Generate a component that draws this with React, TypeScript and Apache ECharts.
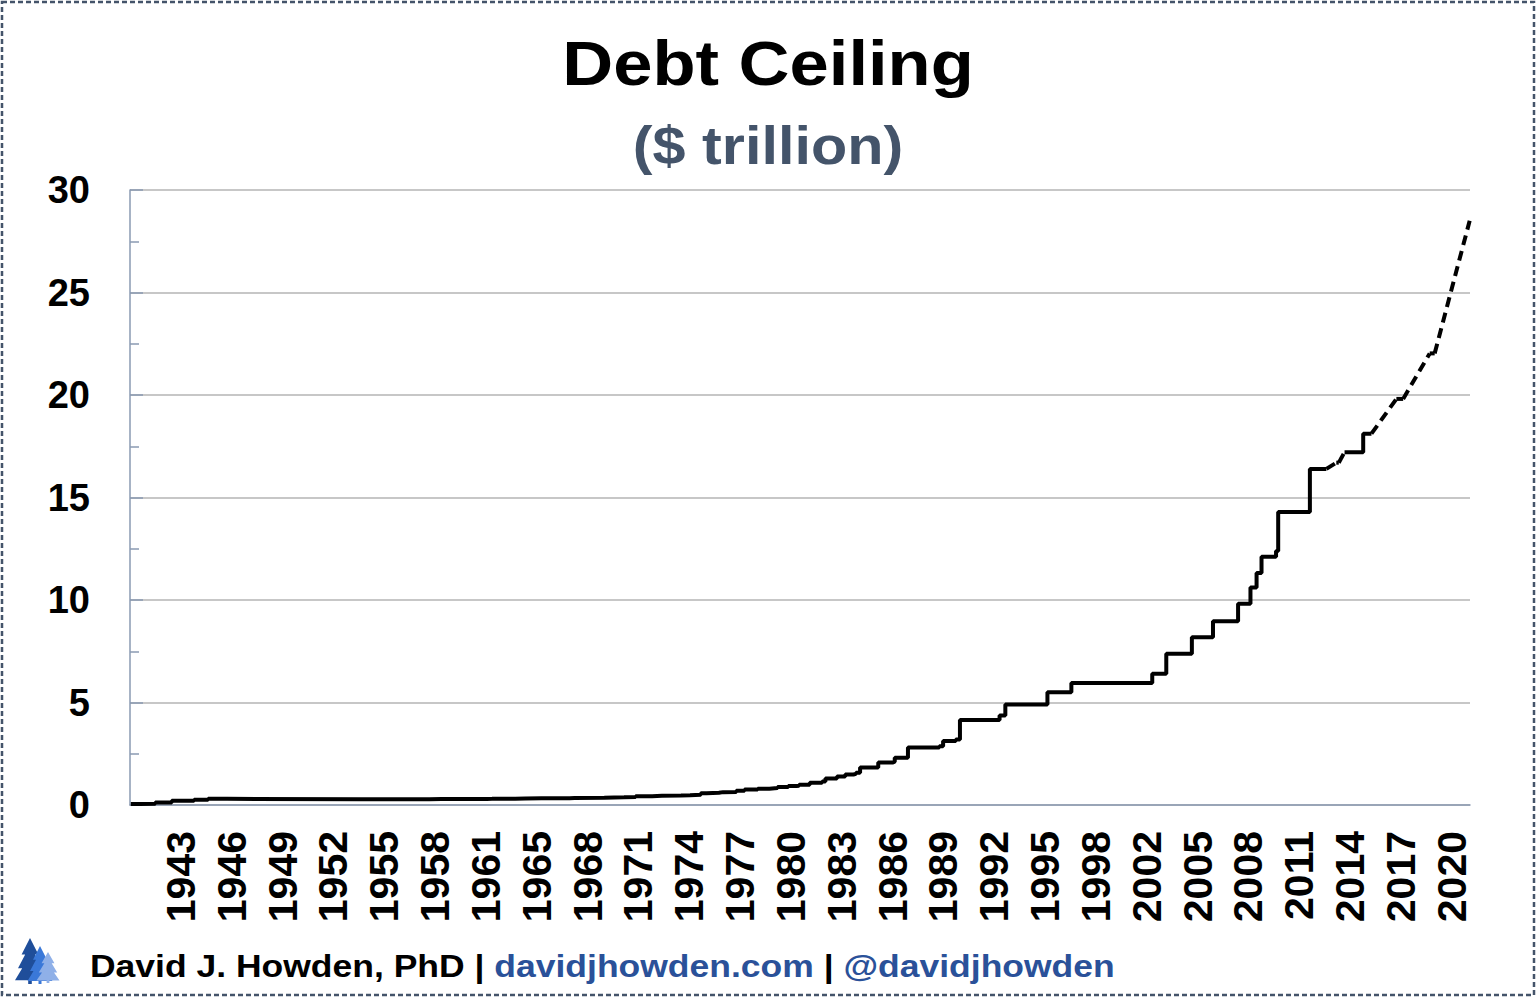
import { useEffect, useRef } from 'react';
import * as echarts from 'echarts';

// X-axis tick labels (date axis, ~1125-day major unit, year format)
const TICK_LABELS = ['1943', '1946', '1949', '1952', '1955', '1958', '1961', '1965', '1968', '1971', '1974', '1977', '1980', '1983', '1986', '1989', '1992', '1995', '1998', '2002', '2005', '2008', '2011', '2014', '2017', '2020'];
const FIRST_TICK = 1943.5;
const TICK_STEP = 3.08;
const X_MIN = 1940.42;
const X_MAX = 2021.6;

// Debt ceiling changes: date (decimal year) and limit ($ trillion)
const DATES = [
  1940.47, 1941.0, 1941.95, 1942.95, 1944.3, 1945.15, 1946.3, 1954.45, 1956.35, 1957.35,
  1958.0, 1958.55, 1959.3, 1960.35, 1961.35, 1962.05, 1962.35, 1963.25, 1963.35, 1963.75,
  1964.35, 1965.35, 1966.35, 1967.05, 1967.35, 1969.15, 1970.35, 1971.05, 1972.05, 1972.65,
  1973.8, 1974.35, 1975.0, 1975.35, 1976.1, 1976.35, 1977.15, 1977.65, 1978.45, 1979.15,
  1979.65, 1980.3, 1980.8, 1980.95, 1981.6, 1982.35, 1982.55, 1983.25, 1983.75, 1984.25,
  1984.4, 1984.65, 1985.75, 1986.65, 1986.75, 1987.55, 1989.45, 1989.68, 1990.45, 1990.7,
  1993.1, 1993.45, 1996.0, 1997.45, 2002.35, 2003.2, 2004.75, 2006.03, 2007.55, 2008.3,
  2008.67, 2008.97, 2009.85, 2009.98, 2011.9, 2012.9, 2013.5, 2013.65, 2014.0, 2015.13,
  2015.63, 2017.14, 2017.55, 2019.16, 2019.46, 2021.58,
];
const LIMITS = [
  0.049, 0.065, 0.125, 0.21, 0.26, 0.3, 0.275, 0.281, 0.278, 0.275,
  0.28, 0.288, 0.295, 0.293, 0.298, 0.3, 0.308, 0.307, 0.309, 0.315,
  0.324, 0.328, 0.33, 0.336, 0.358, 0.377, 0.395, 0.43, 0.45, 0.465,
  0.475, 0.495, 0.577, 0.595, 0.627, 0.636, 0.7, 0.752, 0.798, 0.83,
  0.879, 0.925, 0.935, 0.985, 1.08, 1.143, 1.29, 1.389, 1.49, 1.52,
  1.573, 1.824, 2.079, 2.111, 2.3, 2.8, 2.87, 3.123, 3.195, 4.145,
  4.37, 4.9, 5.5, 5.95, 6.4, 7.384, 8.184, 8.965, 9.815, 10.615,
  11.315, 12.104, 12.394, 14.294, 16.394, 16.394, 16.699, 16.699, 17.212, 18.113,
  18.113, 19.809, 19.809, 22.03, 22.03, 28.5,
];
// Dates at which a suspension period began (drawn dashed until the next date)
const SUSPENSION_STARTS = [2012.9, 2013.65, 2015.63, 2017.55, 2019.46];

const FONT = '"Liberation Sans", Arial, Helvetica, sans-serif';

function buildRuns() {
  const solid: number[][][] = [];
  const dashed: number[][][] = [];
  let cur: number[][] | null = null;
  for (let i = 0; i < DATES.length - 1; i++) {
    const a = [DATES[i], LIMITS[i]];
    const b = [DATES[i + 1], LIMITS[i + 1]];
    if (SUSPENSION_STARTS.includes(DATES[i])) {
      if (cur) { solid.push(cur); cur = null; }
      dashed.push([a, b]);
    } else {
      if (!cur) cur = [a];
      cur.push(b);
    }
  }
  if (cur) solid.push(cur);
  return { solid, dashed };
}

function treePoints(cx: number, top: number, h: number, w: number) {
  return [
    [cx, top],
    [cx + 0.28 * w, top + 0.36 * h],
    [cx + 0.16 * w, top + 0.36 * h],
    [cx + 0.4 * w, top + 0.66 * h],
    [cx + 0.26 * w, top + 0.66 * h],
    [cx + 0.5 * w, top + 0.92 * h],
    [cx + 0.06 * w, top + 0.92 * h],
    [cx + 0.06 * w, top + h],
    [cx - 0.06 * w, top + h],
    [cx - 0.06 * w, top + 0.92 * h],
    [cx - 0.5 * w, top + 0.92 * h],
    [cx - 0.26 * w, top + 0.66 * h],
    [cx - 0.4 * w, top + 0.66 * h],
    [cx - 0.16 * w, top + 0.36 * h],
    [cx - 0.28 * w, top + 0.36 * h],
  ];
}

export default function App() {
  const ref = useRef<HTMLDivElement>(null);
  useEffect(() => {
    if (!ref.current) return;
    const chart = echarts.init(ref.current, null, { renderer: 'svg' });
    const { solid, dashed } = buildRuns();
    const tickValues = TICK_LABELS.map((_, k) => +(FIRST_TICK + k * TICK_STEP).toFixed(4));

    const series: any[] = [];
    solid.forEach((run) => {
      series.push({
        type: 'line', data: run, step: 'end', showSymbol: false, silent: true,
        lineStyle: { color: '#000', width: 4 },
      });
    });
    dashed.forEach((run) => {
      series.push({
        type: 'line', data: run, showSymbol: false, silent: true,
        lineStyle: { color: '#000', width: 4, type: [10, 6] },
      });
    });

    const axisColor = '#8a9ab2';
    chart.setOption({
      animation: false,
      backgroundColor: '#fff',
      grid: { left: 130, right: 66, top: 190, bottom: 192, containLabel: false },
      xAxis: {
        type: 'value', min: X_MIN, max: X_MAX,
        axisLine: { show: true, lineStyle: { color: axisColor, width: 1.5 } },
        axisTick: { show: false },
        splitLine: { show: false },
        axisLabel: {
          customValues: tickValues,
          rotate: 90, margin: 26, fontSize: 41, fontWeight: 'bold', color: '#000', fontFamily: FONT,
          formatter: (v: number) => TICK_LABELS[Math.round((v - FIRST_TICK) / TICK_STEP)] ?? '',
        },
      },
      yAxis: {
        type: 'value', min: 0, max: 30, interval: 5,
        axisLine: { show: true, lineStyle: { color: axisColor, width: 1.5 } },
        axisTick: { show: true, inside: true, length: 13, lineStyle: { color: axisColor, width: 1.5 } },
        minorTick: { show: true, splitNumber: 2, length: 9, lineStyle: { color: axisColor, width: 1.5 } },
        splitLine: { show: true, lineStyle: { color: '#b4b4b4', width: 1.5 } },
        axisLabel: { fontSize: 38, fontWeight: 'bold', color: '#000', margin: 40, fontFamily: FONT },
      },
      series,
      graphic: [
        {
          type: 'rect', silent: true,
          shape: { x: 2, y: 2, width: 1532, height: 993 },
          style: { fill: 'none', stroke: '#44546a', lineWidth: 2.5, lineDash: [5, 3] },
        },
        {
          type: 'text', x: 768, y: 63, scaleX: 1.12, silent: true,
          style: {
            text: 'Debt Ceiling', fill: '#000', fontSize: 63, fontWeight: 'bold', fontFamily: FONT,
            textAlign: 'center', textVerticalAlign: 'middle',
          },
        },
        {
          type: 'text', x: 768, y: 146, scaleX: 1.12, silent: true,
          style: {
            text: '($ trillion)', fill: '#44546a', fontSize: 53, fontWeight: 'bold', fontFamily: FONT,
            textAlign: 'center', textVerticalAlign: 'middle',
          },
        },
        { type: 'polygon', silent: true, shape: { points: treePoints(30, 938, 46, 30) }, style: { fill: '#1f4e9a' } },
        { type: 'polygon', silent: true, shape: { points: treePoints(40, 946, 38, 25) }, style: { fill: '#3a78d8' } },
        { type: 'polygon', silent: true, shape: { points: treePoints(48, 952, 31, 23) }, style: { fill: '#8fb0e8' } },
        {
          type: 'text', x: 90, y: 966, scaleX: 1.145, silent: true,
          style: {
            text: '{a|David J. Howden, PhD} {s||} {b|davidjhowden.com} {s||} {b|@davidjhowden}',
            fontSize: 31, fontWeight: 'bold', fontFamily: FONT, fill: '#000',
            textAlign: 'left', textVerticalAlign: 'middle',
            rich: {
              a: { fontSize: 31, fontWeight: 'bold', fontFamily: FONT, fill: '#000' },
              s: { fontSize: 31, fontWeight: 'bold', fontFamily: FONT, fill: '#000' },
              b: { fontSize: 31, fontWeight: 'bold', fontFamily: FONT, fill: '#2a5199' },
            },
          },
        },
      ],
    });
    return () => chart.dispose();
  }, []);
  return (
    <div
      ref={ref}
      style={{ position: 'absolute', left: 0, top: 0, width: 1536, height: 997, background: '#fff' }}
    />
  );
}
